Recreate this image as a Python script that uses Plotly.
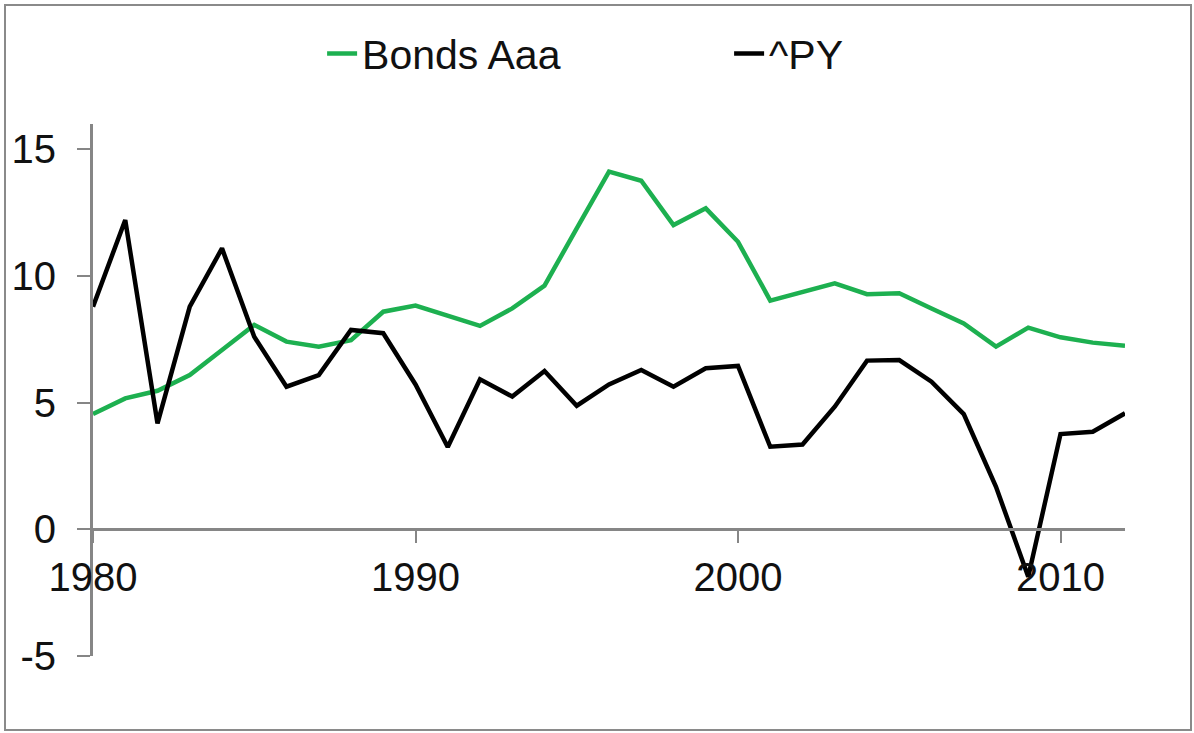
import plotly.graph_objects as go

years = list(range(1980, 2013))
bonds_aaa = [4.55, 5.17, 5.47, 6.09, 7.08, 8.07, 7.41, 7.21, 7.47, 8.59,
             8.83, 8.42, 8.03, 8.72, 9.62, 11.88, 14.12, 13.76, 12.01, 12.67,
             11.35, 9.03, 9.38, 9.71, 9.28, 9.32, 8.72, 8.13, 7.21, 7.96,
             7.58, 7.37, 7.25]
py = [8.79, 12.21, 4.18, 8.79, 11.09, 7.60, 5.63, 6.09, 7.87, 7.74,
      5.72, 3.25, 5.92, 5.24, 6.25, 4.88, 5.72, 6.29, 5.63, 6.36,
      6.45, 3.26, 3.35, 4.84, 6.66, 6.68, 5.83, 4.55, 1.68, -1.87,
      3.76, 3.85, 4.58]
x_ticks = [1980, 1990, 2000, 2010]
y_ticks = [-5, 0, 5, 10, 15]
y_tick_labels = ["-5", "0", "5", "10", "15"]

FONT = "Liberation Sans, Arial, sans-serif"
AXIS_COL = "#868686"
TXT = "#111111"

fig = go.Figure()
fig.add_trace(go.Scatter(x=years, y=bonds_aaa, mode="lines", name="Bonds Aaa",
                         line=dict(color="#1DB050", width=4.5)))
fig.add_trace(go.Scatter(x=years, y=py, mode="lines", name="^PY",
                         line=dict(color="#000000", width=4.5)))

ymin, ymax = -5, 16
L, R, T, B = 93, 69, 124, 77
fig.update_layout(
    template="none",
    width=1194, height=733,
    margin=dict(l=L, r=R, t=T, b=B, autoexpand=False),
    paper_bgcolor="white", plot_bgcolor="white",
    font=dict(family=FONT, size=40, color=TXT),
    showlegend=True,
    legend=dict(orientation="h", x=0.222, xanchor="left", y=1.132, yanchor="middle",
                font=dict(family=FONT, size=41, color=TXT),
                entrywidth=362, entrywidthmode="pixels",
                bgcolor="rgba(0,0,0,0)"),
    xaxis=dict(range=[1980, 2012], tickvals=x_ticks, showgrid=False, zeroline=False,
               automargin=False,
               showline=True, linecolor=AXIS_COL, linewidth=3,
               ticks="outside", ticklen=12, tickwidth=2, tickcolor=AXIS_COL,
               anchor="free", position=(0 - ymin) / (ymax - ymin),
               ticklabelstandoff=0,
               tickfont=dict(family=FONT, size=40, color=TXT)),
    yaxis=dict(range=[ymin, ymax], tickvals=y_ticks, ticktext=y_tick_labels,
               showgrid=False, zeroline=False, automargin=False,
               showline=True, linecolor=AXIS_COL, linewidth=3,
               ticks="outside", ticklen=13, tickwidth=2, tickcolor=AXIS_COL,
               ticklabelstandoff=13,
               tickfont=dict(family=FONT, size=40, color=TXT)),
)

# outer chart frame
pw = 1194 - L - R
ph = 733 - T - B
fig.add_shape(type="rect", xref="paper", yref="paper",
              x0=(5 - L) / pw, x1=(1191 - L) / pw,
              y0=(656 - 730) / ph, y1=(656 - 5) / ph,
              line=dict(color="#8a8a8a", width=2), layer="below")

fig.write_html("out.html", config={"displayModeBar": False},
               post_script="document.body.style.margin='0';document.body.style.overflow='hidden';")
